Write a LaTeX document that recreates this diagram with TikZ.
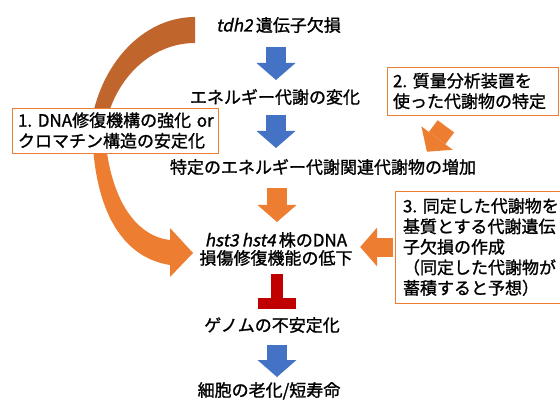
\documentclass[tikz,border=0pt]{standalone}
\usepackage{fontspec}
\setmainfont{Noto Sans CJK JP}[FakeBold=1.2, WordSpace=0.85]
\newfontfamily\slantjp[FakeSlant=0.2, FakeBold=1.2, WordSpace=0.85]{Noto Sans CJK JP}
\usepackage{xcolor}
\usetikzlibrary{arrows.meta,calc}
\frenchspacing

\definecolor{flowblue}{HTML}{4472C4}
\definecolor{flowred}{HTML}{C00000}
\definecolor{notebrown}{HTML}{C0652C}
\definecolor{noteorange}{HTML}{ED7D31}

\begin{document}
\begin{tikzpicture}[x=1pt, y=-1pt,
    flowtext/.style={inner sep=0pt, font=\fontsize{17}{20.5}\selectfont},
    stepnode/.style={flowtext, text height=15pt, text depth=2pt},
    notebox/.style={draw=noteorange, line width=0.9pt, fill=white, inner xsep=6pt, inner ysep=0pt, align=left, font=\fontsize{17}{20.5}\selectfont},
    fatarrow/.style={line width=20.5pt, -{Triangle[width=39pt, length=17pt, line width=0pt]}},
    inhibit/.style={draw=flowred, line width=12.6pt, -{Rectangle[width=38.5pt, length=11pt, line width=0pt]}}]
    \path[use as bounding box, fill=white] (0,0) rectangle (560,401);

    % curved arrow, drawn before box 1
    \fill[notebrown] (195,17) .. controls (136.5,17) and (89,76.5) .. (89,150)
        -- (103,150) .. controls (103,91) and (144,43) .. (195,43) -- cycle;
    \fill[noteorange] (92,120) .. controls (92,215) and (125,258) .. (170,265)
        -- (170,277) -- (193,253) -- (170,228) -- (170,240)
        .. controls (140,237) and (107,205) .. (104,120) -- cycle;

    % main flow
    \node[stepnode] (tdh) at (278.5,25) {{\slantjp tdh2} 遺伝子欠損};
    \node[stepnode] (energy) at (275,97) {エネルギー代謝の変化};
    \node[stepnode] (metab) at (323,167) {特定のエネルギー代謝関連代謝物の増加};
    \node[flowtext, align=center, font=\fontsize{17}{18}\selectfont] (hst) at (276,249) {{\slantjp hst3 hst4} 株のDNA\\損傷修復機能の低下};
    \node[stepnode] (genome) at (272,325) {ゲノムの不安定化};
    \node[stepnode] (aging) at (269,390) {細胞の老化/短寿命};

    % notes
    \node[notebox, minimum height=45pt, text width=194pt] (note1) at (115,130.5) {\mbox{1. DNA修復機構の強化 or}\\クロマチン構造の安定化};
    \node[notebox, minimum height=48pt, text width=159pt] (note2) at (472.5,91) {2. 質量分析装置を\\使った代謝物の特定};
    \node[notebox, inner xsep=8pt, minimum height=112pt, text width=184pt] (note3) at (495,247) {\mbox{3. 同定した代謝物を}\\基質とする代謝遺伝\\子欠損の作成\\（同定した代謝物が\\蓄積すると予想）};

    \draw[fatarrow, flowblue, shorten <=22pt, shorten >=17pt] (hst.center |- tdh.center) -- (hst.center |- energy.center);
    \draw[fatarrow, flowblue, shorten <=18pt, shorten >=19pt] (hst.center |- energy.center) -- (hst.center |- metab.center);
    \draw[fatarrow, noteorange, shorten <=21pt, shorten >=27pt] ([xshift=1pt]hst.center |- metab.center) -- ([xshift=1pt]hst.center);
    \draw[inhibit, shorten <=25pt, shorten >=16pt] ([xshift=1pt]hst.center) -- ([xshift=1pt]hst.center |- genome.center);
    \draw[fatarrow, flowblue, shorten <=20pt, shorten >=13pt] ([xshift=1pt]hst.center |- genome.center) -- ([xshift=1pt]hst.center |- aging.center);
    \draw[fatarrow, noteorange, line width=19pt, shorten <=2pt, shorten >=7.5pt] (note3.west) -- (note3.west -| hst.east);
    \draw[fatarrow, noteorange, shorten <=13.6pt, shorten >=8.2pt] ([xshift=-18.5pt]note2.south) -- ([xshift=99pt]metab.north);
\end{tikzpicture}
\end{document}
